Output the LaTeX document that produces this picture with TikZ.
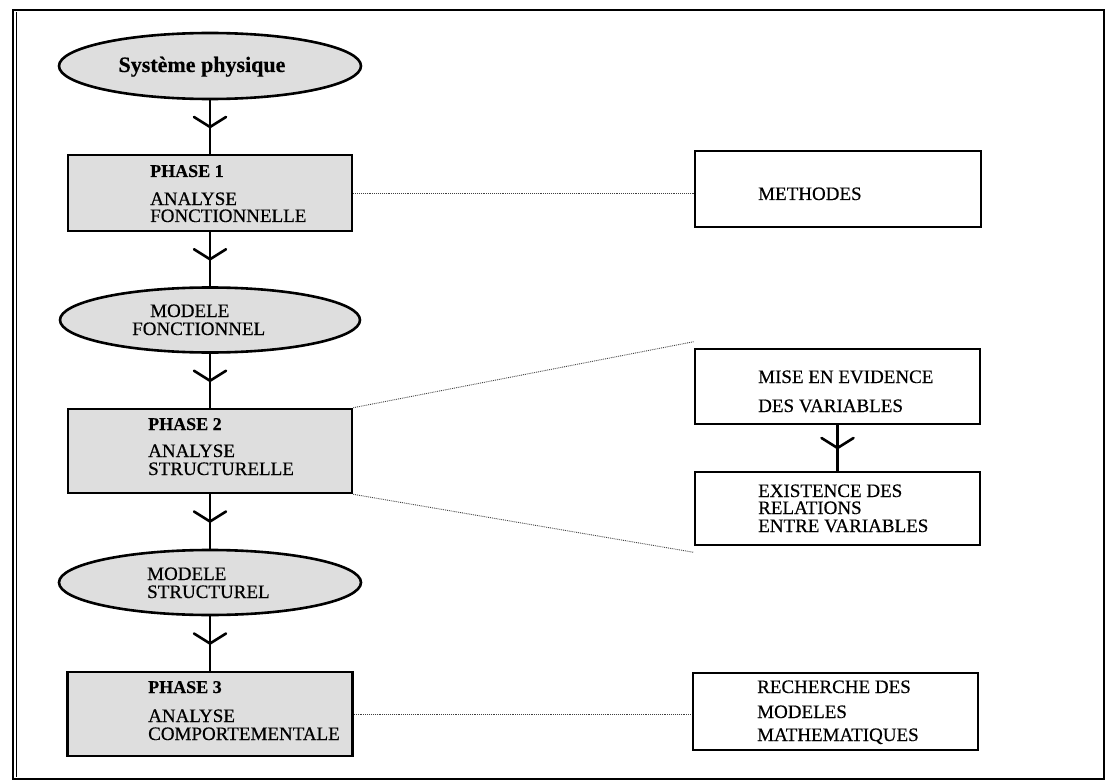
\documentclass[tikz,border=0pt]{standalone}
\usepackage{fontspec}
\setmainfont{Liberation Serif}[FakeBold=0.5]
\newfontfamily\boldface{Liberation Serif Bold}[FakeBold=0.4]
\usetikzlibrary{shapes.geometric,decorations.markings}
\tikzset{
  shade/.style={fill=black!13},
  phasebox/.style={draw, line width=2.6pt, shade, rectangle, inner sep=0pt},
  sidebox/.style={draw, line width=2.6pt, fill=white, rectangle, inner sep=0pt},
  modell/.style={draw, line width=2.6pt, shade, ellipse, inner sep=0pt},
  txt/.style={anchor=base west, inner sep=0pt, font=\fontsize{19}{19}\selectfont},
  btxt/.style={anchor=base west, inner sep=0pt, font=\boldface\fontsize{18}{18}\selectfont},
  flow/.style={line width=2.3pt, postaction={decorate}, decoration={markings,
     mark=at position 0.5 with {\draw[line width=2.6pt, line join=round, line cap=round]
       (-10pt,16pt) .. controls (-5pt,8pt) .. (0pt,0pt) .. controls (-5pt,-8pt) .. (-10pt,-16pt);}}},
  link/.style={densely dotted, line width=0.9pt, black!75}
}
\begin{document}
\begin{tikzpicture}[x=1pt,y=-1pt]
\useasboundingbox (0,0) rectangle (1109,781);
% frame
\draw[line width=1.8pt] (13,10) rectangle (1104,779);
\draw[line width=1.2pt] (16.5,12) -- (16.5,777);

% left column
\node[modell, minimum width=302pt, minimum height=66pt] (e1) at (210,66) {};
\node[anchor=base, inner sep=0pt, font=\boldface\fontsize{22}{22}\selectfont] (e1t) at (202,72) {Système physique};

\node[phasebox, minimum width=284pt, minimum height=76pt] (p1) at (210,193) {};
\node[btxt] (p1a) at (150,177) {PHASE 1};
\node[txt] (p1b) at (150,205) {ANALYSE};
\node[txt] (p1c) at (150,222) {FONCTIONNELLE};

\node[modell, minimum width=300pt, minimum height=65pt] (e2) at (210,320) {};
\node[txt] (e2a) at (150,317) {MODELE};
\node[txt] (e2b) at (132,335) {FONCTIONNEL};

\node[phasebox, minimum width=284pt, minimum height=84pt] (p2) at (210,451) {};
\node[btxt] (p2a) at (148,430) {PHASE 2};
\node[txt] (p2b) at (148,457) {ANALYSE};
\node[txt] (p2c) at (148,475) {STRUCTURELLE};

\node[modell, minimum width=302pt, minimum height=65pt] (e3) at (210,582.5) {};
\node[txt] (e3a) at (147,580) {MODELE};
\node[txt] (e3b) at (147,598) {STRUCTUREL};

\node[phasebox, minimum width=285pt, minimum height=84pt] (p3) at (210,714) {};
\node[btxt] (p3a) at (148,693) {PHASE 3};
\node[txt] (p3b) at (148,722) {ANALYSE};
\node[txt] (p3c) at (148,740) {COMPORTEMENTALE};

% right column
\node[sidebox, minimum width=286pt, minimum height=76pt] (m) at (838,189) {};
\node[txt] (mt) at (758,200) {METHODES};

\node[sidebox, minimum width=285pt, minimum height=75pt] (v) at (837.5,386.5) {};
\node[txt] (va) at (758,383) {MISE EN EVIDENCE};
\node[txt] (vb) at (758,412) {DES VARIABLES};

\node[sidebox, minimum width=285pt, minimum height=73pt] (r) at (837.5,508.5) {};
\node[txt] (ra) at (758,497) {EXISTENCE DES};
\node[txt] (rb) at (758,514) {RELATIONS};
\node[txt] (rc) at (758,532) {ENTRE VARIABLES};

\node[sidebox, minimum width=285pt, minimum height=77pt] (mm) at (835.5,711.5) {};
\node[txt] (mma) at (757,693) {RECHERCHE DES};
\node[txt] (mmb) at (757,718) {MODELES};
\node[txt] (mmc) at (757,741) {MATHEMATIQUES};

% flow connectors
\draw[flow] (e1.south) -- (p1.north);
\draw[flow] (p1.south) -- (e2.north);
\draw[flow] (e2.south) -- (p2.north);
\draw[flow] (p2.south) -- (e3.north);
\draw[flow] (e3.south) -- (p3.north);
\draw[flow] (v.south) -- (r.north);

% dotted links
\draw[link] (p1.east) -- (p1.east -| m.west);
\draw[link] (p2.north east) -- ([yshift=6pt]v.north west);
\draw[link] (p2.south east) -- ([yshift=-6pt]r.south west);
\draw[link] (p3.east) -- (p3.east -| mm.west);
\end{tikzpicture}
\end{document}
